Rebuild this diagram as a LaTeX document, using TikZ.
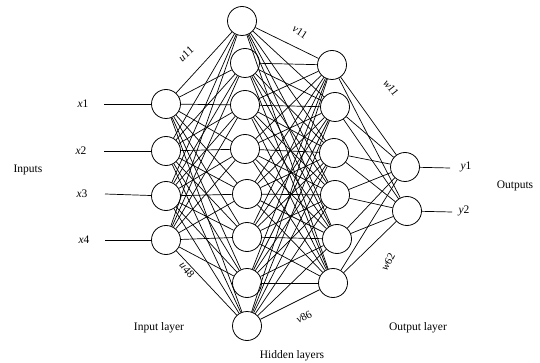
\documentclass[tikz,border=0pt]{standalone}
\usepackage{fontspec}
\setmainfont{Liberation Serif}
\begin{document}
\begin{tikzpicture}
  [x=1pt,y=-1pt,line width=.7pt,
   every node/.style={font=\fontsize{11.5}{13}\selectfont},
   neuron/.style={circle,draw,line width=.8pt,minimum size=29pt,inner sep=0pt},
   wlabel/.style={font=\fontsize{11}{12}\selectfont,inner sep=0pt}]
  \useasboundingbox (0,0) rectangle (540,363);

  % input layer
  \node[neuron] (i1) at (166,104) {};
  \node[neuron] (i2) at (166,151) {};
  \node[neuron] (i3) at (166,196) {};
  \node[neuron] (i4) at (166,240) {};

  % first hidden layer
  \node[neuron] (h1) at (242,21)  {};
  \node[neuron] (h2) at (245,63)  {};
  \node[neuron] (h3) at (245,105) {};
  \node[neuron] (h4) at (245,149) {};
  \node[neuron] (h5) at (247,194) {};
  \node[neuron] (h6) at (247,237) {};
  \node[neuron] (h7) at (247,283) {};
  \node[neuron] (h8) at (247,326) {};

  % second hidden layer
  \node[neuron] (g1) at (332,65)  {};
  \node[neuron] (g2) at (335,107) {};
  \node[neuron] (g3) at (334,153) {};
  \node[neuron] (g4) at (335,195) {};
  \node[neuron] (g5) at (337,239) {};
  \node[neuron] (g6) at (333,283) {};

  % output layer
  \node[neuron] (o1) at (405,167) {};
  \node[neuron] (o2) at (407,211) {};

  \foreach \from in {i1,i2,i3,i4}
    \foreach \to in {h1,h2,h3,h4,h5,h6,h7,h8}
      \draw (\from) -- (\to);
  \foreach \from in {h1,h2,h3,h4,h5,h6,h7,h8}
    \foreach \to in {g1,g2,g3,g4,g5,g6}
      \draw (\from) -- (\to);
  \foreach \from in {g1,g2,g3,g4,g5,g6}
    \foreach \to in {o1,o2}
      \draw (\from) -- (\to);

  % inputs and outputs
  \node (x1) at (83,104) {\textit{x}1};
  \node (x2) at (81,151) {\textit{x}2};
  \node (x3) at (82,194) {\textit{x}3};
  \node (x4) at (84,240) {\textit{x}4};
  \coordinate (x1in) at (104,104);
  \coordinate (x2in) at (104,151);
  \coordinate (x3in) at (105,194);
  \coordinate (x4in) at (105,240);
  \foreach \n in {1,2,3,4}
    \draw (x\n in) -- (i\n);

  \node (y1) at (466,167) {\textit{y}1};
  \node (y2) at (464,211) {\textit{y}2};
  \coordinate (y1out) at (450,168);
  \coordinate (y2out) at (452,212);
  \draw (o1) -- (y1out);
  \draw (o2) -- (y2out);

  % weight labels
  \node[wlabel,rotate=42]  (u11) at (186,54)  {\textit{u}11};
  \node[wlabel,rotate=-50] (u48) at (187,270) {\textit{u}48};
  \node[wlabel,rotate=-33] (v11) at (300,32)  {\textit{v}11};
  \node[wlabel,rotate=28]  (v86) at (304,317) {\textit{v}86};
  \node[wlabel,rotate=-52] (w11) at (391,88)  {\textit{w}11};
  \node[wlabel,rotate=62]  (w62) at (388,262) {\textit{w}62};

  % layer captions
  \node (inputs)  at (28,170)  {Inputs};
  \node (outputs) at (515,186) {Outputs};
  \node (inlayer)  at (159,328) {Input layer};
  \node (outlayer) at (418,328) {Output layer};
  \node (hidden)   at (292,356) {Hidden layers};
\end{tikzpicture}
\end{document}
